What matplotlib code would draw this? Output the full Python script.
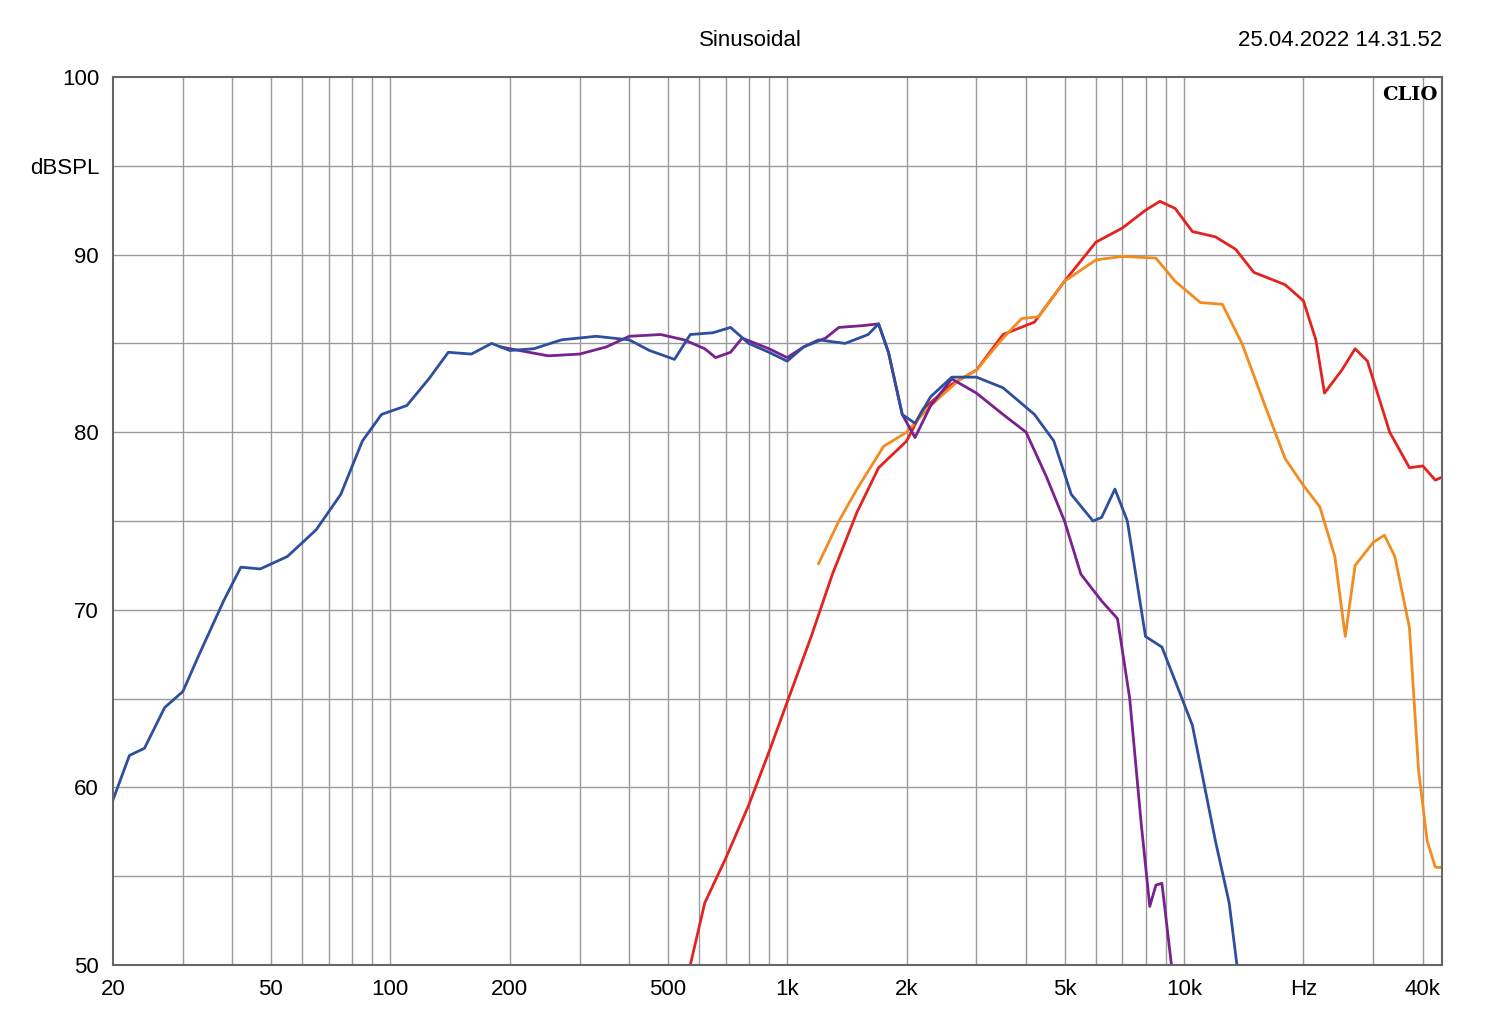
import matplotlib
matplotlib.use("Agg")
import matplotlib.pyplot as plt

plt.rcParams["font.family"] = "Liberation Sans"

blue_f = [20, 22, 24, 27, 30, 33, 38, 42, 47, 55, 65, 75, 85, 95, 110, 125, 140, 160, 180, 200,
          230, 270, 330, 400, 450, 520, 570, 650, 720, 800, 900, 1000, 1100, 1200, 1400, 1600,
          1700, 1800, 1950, 2100, 2300, 2600, 3000, 3500, 4200, 4700, 5200, 5900, 6200, 6700,
          7200, 8000, 8800, 9500, 10500, 12000, 13000, 13600]
blue_db = [59.3, 61.8, 62.2, 64.5, 65.4, 67.5, 70.5, 72.4, 72.3, 73, 74.5, 76.5, 79.5, 81, 81.5,
           83, 84.5, 84.4, 85, 84.6, 84.7, 85.2, 85.4, 85.2, 84.6, 84.1, 85.5, 85.6, 85.9, 85,
           84.5, 84, 84.8, 85.2, 85, 85.5, 86.1, 84.5, 81, 80.5, 82, 83.1, 83.1, 82.5, 81, 79.5,
           76.5, 75, 75.2, 76.8, 75, 68.5, 67.9, 66, 63.5, 57, 53.5, 50]

purple_f = [190, 200, 250, 300, 350, 400, 480, 550, 620, 660, 720, 770, 900, 1000, 1100, 1250,
            1350, 1550, 1700, 1800, 1950, 2100, 2300, 2600, 3000, 3500, 4000, 4500, 5000, 5500,
            6200, 6800, 7300, 7800, 8200, 8500, 8800, 9300]
purple_db = [84.8, 84.7, 84.3, 84.4, 84.8, 85.4, 85.5, 85.2, 84.7, 84.2, 84.5, 85.3, 84.7, 84.2,
             84.8, 85.3, 85.9, 86, 86.1, 84.5, 81, 79.7, 81.5, 83, 82.2, 81, 80, 77.5, 75, 72,
             70.5, 69.5, 65, 58, 53.3, 54.5, 54.6, 50]

red_f = [570, 620, 700, 800, 900, 1000, 1150, 1300, 1500, 1700, 2000, 2200, 2600, 3000, 3500,
         4200, 5000, 6000, 7000, 8000, 8700, 9500, 10500, 12000, 13500, 15000, 18000, 20000,
         21500, 22600, 25000, 27000, 29000, 33000, 37000, 40000, 43000, 45000]
red_db = [50, 53.5, 56, 59, 62, 64.8, 68.5, 72, 75.5, 78, 79.5, 81.3, 82.7, 83.5, 85.5, 86.2,
          88.5, 90.7, 91.5, 92.5, 93, 92.6, 91.3, 91, 90.3, 89, 88.3, 87.4, 85.2, 82.2, 83.5,
          84.7, 84, 80, 78, 78.1, 77.3, 77.5]

orange_f = [1200, 1350, 1500, 1750, 2000, 2300, 2700, 3000, 3500, 3900, 4300, 5000, 6000, 7000,
            8500, 9500, 11000, 12500, 14000, 16000, 18000, 20000, 22000, 24000, 25500, 27000,
            30000, 32000, 34000, 37000, 39000, 41000, 43000, 45000]
orange_db = [72.6, 75, 76.8, 79.2, 80, 81.5, 82.9, 83.5, 85.3, 86.4, 86.5, 88.5, 89.7, 89.9,
             89.8, 88.5, 87.3, 87.2, 85, 81.5, 78.5, 77, 75.8, 73, 68.5, 72.5, 73.8, 74.2, 73,
             69, 61, 57, 55.5, 55.5]

xticks = [20, 50, 100, 200, 500, 1000, 2000, 5000, 10000, 20000, 40000]
xlabels = ["20", "50", "100", "200", "500", "1k", "2k", "5k", "10k", "Hz", "40k"]
yticks = [50, 60, 70, 80, 90, 95, 100]
ylabels = ["50", "60", "70", "80", "90", "dBSPL", "100"]

fig = plt.figure(figsize=(15, 10.28), dpi=100)
ax = fig.add_axes([113 / 1500, 1 - 965 / 1028, (1442 - 113) / 1500, (965 - 77) / 1028])
ax.set_xscale("log")
ax.set_xlim(20, 44700)
ax.set_ylim(50, 100)

# grid: every decade step and every 5 dB
for d in [10, 100, 1000, 10000]:
    for m in range(1, 10):
        f = d * m
        if 20 < f < 44700:
            ax.axvline(f, color="#9a9a9a", lw=1, zorder=0)
for v in range(55, 100, 5):
    ax.axhline(v, color="#9a9a9a", lw=1, zorder=0)

ax.plot(red_f, red_db, color="#e3231f", lw=2)
ax.plot(orange_f, orange_db, color="#f28c1e", lw=2)
ax.plot(purple_f, purple_db, color="#7a2190", lw=2)
ax.plot(blue_f, blue_db, color="#2d4f9e", lw=2)

ax.set_xticks(xticks)
ax.set_xticklabels(xlabels)
ax.xaxis.set_minor_locator(matplotlib.ticker.NullLocator())
ax.set_yticks(yticks)
ax.set_yticklabels(ylabels)
ax.tick_params(labelsize=16, length=0, pad=10)
for s in ax.spines.values():
    s.set_color("#666666")
    s.set_linewidth(1.5)

fig.text(750 / 1500, 1 - 40 / 1028, "Sinusoidal", ha="center", va="center", fontsize=16)
fig.text(1442 / 1500, 1 - 40 / 1028, "25.04.2022 14.31.52", ha="right", va="center", fontsize=16)
ax.text(0.997, 0.99, "CLIO", transform=ax.transAxes, ha="right", va="top",
        fontsize=14, fontweight="bold", family="DejaVu Serif")

fig.savefig("out.png", dpi=100, facecolor="white")
